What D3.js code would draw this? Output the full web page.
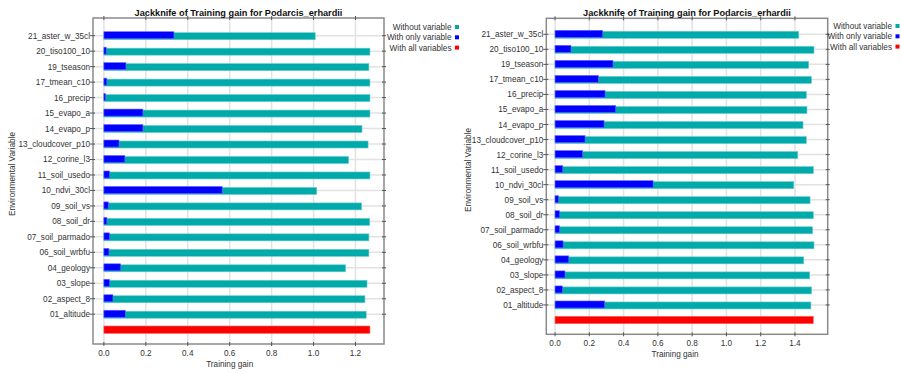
<!DOCTYPE html>
<html><head><meta charset="utf-8">
<script src="https://cdn.jsdelivr.net/npm/d3@7"></script>
<style>body{margin:0;background:#fff}svg{display:block}text{font-family:"Liberation Sans",Arial,sans-serif}</style>
</head><body>
<svg id="c" width="901" height="373"></svg>
<script>
const variables = ["21_aster_w_35cl","20_tiso100_10","19_tseason","17_tmean_c10","16_precip","15_evapo_a","14_evapo_p","13_cloudcover_p10","12_corine_l3","11_soil_usedo","10_ndvi_30cl","09_soil_vs","08_soil_dr","07_soil_parmado","06_soil_wrbfu","04_geology","03_slope","02_aspect_8","01_altitude"];
const leftWithout = [1.008,1.269,1.264,1.269,1.269,1.269,1.231,1.260,1.167,1.269,1.015,1.229,1.268,1.264,1.264,1.153,1.255,1.245,1.251];
const leftWithOnly = [0.334,0.011,0.105,0.014,0.008,0.186,0.186,0.072,0.100,0.027,0.564,0.021,0.014,0.027,0.024,0.080,0.027,0.043,0.102];
const leftAll = 1.269;
const rightWithout = [1.422,1.511,1.480,1.496,1.466,1.470,1.447,1.466,1.416,1.507,1.393,1.488,1.507,1.503,1.511,1.451,1.486,1.497,1.493];
const rightWithOnly = [0.278,0.093,0.338,0.253,0.292,0.354,0.286,0.175,0.161,0.045,0.572,0.021,0.027,0.027,0.047,0.080,0.058,0.043,0.290];
const rightAll = 1.507;
const leftTicks = [0,0.2,0.4,0.6,0.8,1.0,1.2];
const rightTicks = [0,0.2,0.4,0.6,0.8,1.0,1.2,1.4];
const titleText = "Jackknife of Training gain for Podarcis_erhardii";
const legendLabels = ["Without variable","With only variable","With all variables"];
const colors = {without:"#00aaaa", only:"#0000ff", all:"#ff0000"};

const svg = d3.select("#c");

function panel(cfg){
  const g = svg.append("g");
  const x = d3.scaleLinear().domain(cfg.xdom).range([cfg.x0, cfg.x1]);
  const rows = variables.concat(["__all"]);
  const y = d3.scalePoint().domain(rows).range([cfg.yFirst, cfg.yLast]);
  // grid
  g.selectAll(".vg").data(cfg.ticks).join("line")
    .attr("x1",d=>x(d)).attr("x2",d=>x(d)).attr("y1",cfg.y0).attr("y2",cfg.y1)
    .attr("stroke","#e2e2e2").attr("stroke-width",1.5);
  g.selectAll(".hg").data(variables).join("line")
    .attr("x1",cfg.x0).attr("x2",cfg.x1).attr("y1",d=>y(d)).attr("y2",d=>y(d))
    .attr("stroke","#e2e2e2").attr("stroke-width",1.5);
  // bars
  const bh = 7;
  g.selectAll(".bw").data(variables).join("rect")
    .attr("x",x(0)).attr("y",d=>y(d)-bh/2+0.5)
    .attr("width",(d,i)=>x(cfg.without[i])-x(0)).attr("height",bh)
    .attr("fill",colors.without).attr("stroke","#66cccc").attr("stroke-width",0.6);
  g.selectAll(".bo").data(variables).join("rect")
    .attr("x",x(0)).attr("y",d=>y(d)-bh/2-0.5)
    .attr("width",(d,i)=>x(cfg.only[i])-x(0)).attr("height",bh)
    .attr("fill",colors.only).attr("stroke","#6666ff").attr("stroke-width",0.6);
  g.append("rect").datum(cfg.all)
    .attr("x",x(0)).attr("y",y("__all")-3.7)
    .attr("width",d=>x(d)-x(0)).attr("height",7.4)
    .attr("fill",colors.all).attr("stroke","#ff6666").attr("stroke-width",0.6);
  // frame
  g.append("rect").attr("x",cfg.x0).attr("y",cfg.y0).attr("width",cfg.x1-cfg.x0).attr("height",cfg.y1-cfg.y0)
    .attr("fill","none").attr("stroke","#8a8a8a").attr("stroke-width",1.5);
  // axes ticks
  const tk = "#555";
  g.selectAll(".tb").data(cfg.ticks).join("line")
    .attr("x1",d=>x(d)).attr("x2",d=>x(d)).attr("y1",cfg.y1-2).attr("y2",cfg.y1+2).attr("stroke",tk);
  g.selectAll(".tt").data(cfg.ticks).join("line")
    .attr("x1",d=>x(d)).attr("x2",d=>x(d)).attr("y1",cfg.y0-2).attr("y2",cfg.y0+2).attr("stroke",tk);
  g.selectAll(".tl").data(variables).join("line")
    .attr("x1",cfg.x0-3).attr("x2",cfg.x0+2).attr("y1",d=>y(d)).attr("y2",d=>y(d)).attr("stroke",tk);
  g.selectAll(".tr").data(variables).join("line")
    .attr("x1",cfg.x1-2).attr("x2",cfg.x1+2).attr("y1",d=>y(d)).attr("y2",d=>y(d)).attr("stroke",tk);
  // labels
  g.selectAll(".xl").data(cfg.ticks).join("text")
    .attr("x",d=>x(d)).attr("y",cfg.y1+12).attr("text-anchor","middle")
    .attr("font-size",8.2).attr("fill","#333").text(d=>d3.format(".1f")(d));
  g.selectAll(".yl").data(variables).join("text")
    .attr("x",cfg.x0-3).attr("y",d=>y(d)+3).attr("text-anchor","end")
    .attr("font-size",8.2).attr("fill","#333").text(d=>d);
  g.append("text").attr("x",(x(0)+x(cfg.ticks[cfg.ticks.length-1]))/2+cfg.xlabShift).attr("y",cfg.y1+23)
    .attr("text-anchor","middle").attr("font-size",8.2).attr("fill","#333").text("Training gain");
  g.append("text").attr("transform",`translate(${cfg.ylabX},${cfg.ylabY}) rotate(-90)`)
    .attr("text-anchor","middle").attr("font-size",8.2).attr("fill","#333").text("Environmental Variable");
  g.append("text").attr("x",(cfg.x0+cfg.x1)/2).attr("y",cfg.y0-2.5).attr("text-anchor","middle")
    .attr("font-size",9.2).attr("font-weight","bold").attr("fill","#111").text(titleText);
  // legend
  const lc = [colors.without, colors.only, colors.all];
  legendLabels.forEach((t,i)=>{
    g.append("text").attr("x",cfg.legX).attr("y",cfg.legY+i*10.3+3).attr("text-anchor","end")
      .attr("font-size",8.2).attr("fill","#333").text(t);
    g.append("rect").attr("x",cfg.legX+3.5).attr("y",cfg.legY+i*10.3-2).attr("width",4).attr("height",4).attr("fill",lc[i]);
  });
}

panel({x0:93,x1:384,y0:18,y1:344,xdom:[-0.052,1.336],yFirst:35.7,yLast:329.7,
  without:leftWithout,only:leftWithOnly,all:leftAll,ticks:leftTicks,
  ylabX:15,ylabY:174,legX:451.5,legY:27,xlabShift:0});
panel({x0:546.3,x1:827.7,y0:18.3,y1:334.3,xdom:[-0.051,1.591],yFirst:34.3,yLast:320,
  without:rightWithout,only:rightWithOnly,all:rightAll,ticks:rightTicks,
  ylabX:471,ylabY:170,legX:892,legY:26,xlabShift:0});
</script>
</body></html>
